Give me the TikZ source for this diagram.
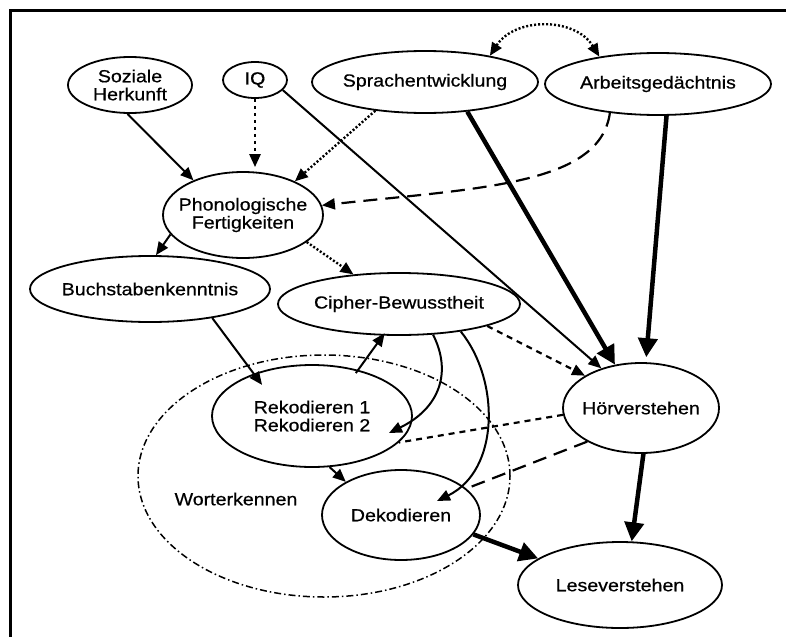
\documentclass[tikz,border=0pt]{standalone}
\usepackage{fontspec}
\setmainfont{Liberation Sans}[FakeStretch=1.12, FakeBold=0.6]
\usetikzlibrary{shapes.geometric,arrows.meta,calc}
\begin{document}
\begin{tikzpicture}[x=1pt,y=-1pt,
  every node/.style={font=\fontsize{17.5}{18}\selectfont},
  ell/.style={draw, ellipse, line width=1.8pt, inner xsep=-40pt, inner ysep=-20pt, align=center},
  wortell/.style={draw, ellipse, line width=1.5pt, inner xsep=-40pt, inner ysep=-20pt, dash pattern=on 7pt off 3pt on 1.5pt off 3pt},
  tipthin/.style={-{Triangle[length=13pt,width=11pt]}},
  arrthin/.style={line width=2pt, tipthin},
  arrthick/.style={line width=4.5pt, -{Triangle[length=19pt,width=19pt]}},
  dotarr/.style={line width=2.4pt, dash pattern=on 2pt off 2pt, tipthin},
  dotheavy/.style={line width=2.6pt, dash pattern=on 3.5pt off 3.5pt, tipthin},
  dotboth/.style={line width=2.4pt, dash pattern=on 2pt off 2pt, {Triangle[length=13pt,width=11pt]}-{Triangle[length=13pt,width=11pt]}},
  sdash/.style={line width=2.2pt, dash pattern=on 6pt off 5pt},
  sdasharr/.style={sdash, tipthin},
  ldash/.style={line width=2.2pt, dash pattern=on 14pt off 8pt},
  ldasharr/.style={ldash, tipthin}
]
\useasboundingbox (0,0) rectangle (786,637);
% frame
\draw[line width=3pt] (786,10) -- (10,10) -- (10,637);

% nodes
\node[wortell, minimum width=372pt, minimum height=242pt] (wort) at (324,476) {};
\node (wlab) at (236,499) {Worterkennen};
\node[ell, minimum width=124pt, minimum height=56pt] (soz) at (130,85) {Soziale\\Herkunft};
\node[ell, minimum width=64pt, minimum height=36pt] (iq) at (255,80) {IQ};
\node[ell, minimum width=226pt, minimum height=62pt] (spr) at (425,82) {Sprachentwicklung};
\node[ell, minimum width=226pt, minimum height=62pt] (arb) at (658,84) {Arbeitsgedächtnis};
\node[ell, minimum width=160pt, minimum height=86pt] (pho) at (243,215) {Phonologische\\Fertigkeiten};
\node[ell, minimum width=240pt, minimum height=66pt] (buch) at (150,289) {Buchstabenkenntnis};
\node[ell, minimum width=242pt, minimum height=62pt] (ciph) at (399,304) {Cipher-Bewusstheit};
\node[ell, minimum width=200pt, minimum height=102pt] (rek) at (312,416) {Rekodieren 1\\Rekodieren 2};
\node[ell, minimum width=158pt, minimum height=90pt] (dek) at (401,515) {Dekodieren};
\node[ell, minimum width=156pt, minimum height=90pt] (hor) at (641,408) {Hörverstehen};
\node[ell, minimum width=204pt, minimum height=86pt] (les) at (620,585) {Leseverstehen};

% connectors
\draw[arrthin] (soz.-95) -- (pho.145);
\draw[dotheavy, shorten >=4pt] (iq.south) -- (iq.south |- pho.north);
\draw[arrthin] (iq.-20) -- (hor.135);
\draw[dotarr] (spr.-150) -- (pho.33);
\draw[ldasharr] (arb.-149) .. controls (600,185) and (480,188) .. (pho.7);
\draw[dotboth] (spr.22) .. controls (515,17) and (575,17) .. (arb.155);
\draw[arrthick] (spr.-35) -- (hor.121);
\draw[arrthick, shorten >=5pt] (arb.-75) -- (hor.84);
\draw[arrthin] (pho.195) -- (buch.80);
\draw[dotarr] (pho.-23) -- (ciph.147);
\draw[arrthin, shorten >=-14pt] (buch.-25) -- (rek.144);
\draw[arrthin, shorten <=-4pt, shorten >=-3pt] (rek.45) -- (ciph.-117);
\draw[sdasharr] (ciph.-14) -- (hor.150);
\draw[arrthin] (ciph.-42) .. controls (452,372) and (440,408) .. ($(rek.center)+(77,17)$);
\draw[arrthin] (ciph.-24) .. controls (500,380) and (500,470) .. ($(dek.center)+(36,-14)$);
\draw[sdash] (hor.185) -- (rek.-17);
\draw[ldash] (hor.212) -- (dek.22);
\draw[arrthick] (hor.-87) -- (les.75);
\draw[arrthick] (dek.-15) -- (les.162);
\draw[arrthin] (rek.-71) -- (dek.149);
\end{tikzpicture}
\end{document}
